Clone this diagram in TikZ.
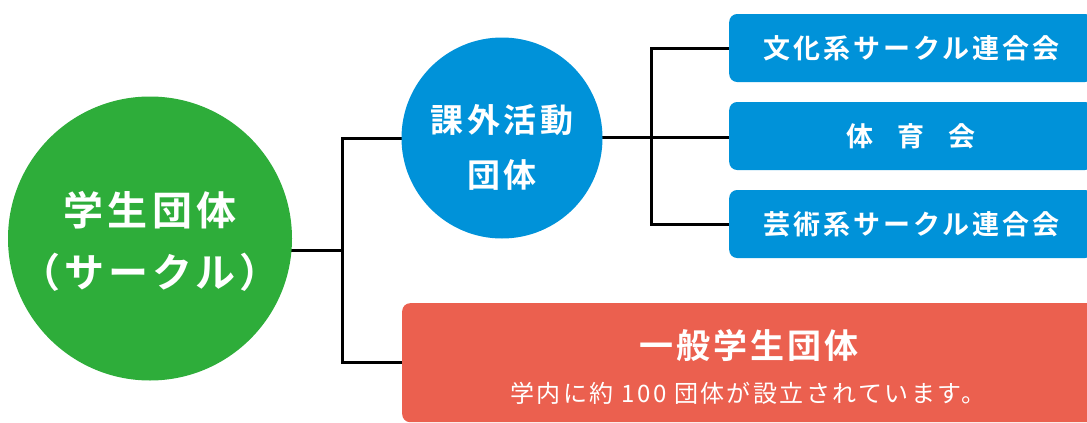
\documentclass[tikz,border=0pt]{standalone}
\usepackage{fontspec}
\usetikzlibrary{backgrounds}
\newfontfamily\jp{Noto Sans CJK JP}
\newfontfamily\jpb{Noto Sans CJK JP Bold}
\definecolor{cgreen}{RGB}{46,173,58}
\definecolor{cblue}{RGB}{0,146,217}
\definecolor{cred}{RGB}{235,96,79}
\tikzset{
  link/.style={draw=black, line width=3pt},
  bluebox/.style={rectangle, rounded corners=8pt, fill=cblue, text=white, minimum width=364pt, minimum height=68pt, anchor=west, inner sep=0pt},
  boxtext/.style={font={\jpb\fontsize{27}{30}\selectfont\addfontfeatures{LetterSpace=11}}}
}
\begin{document}
\begin{tikzpicture}[x=1pt,y=-1pt]
\useasboundingbox (0,0) rectangle (1087,423);
\clip (0,0) rectangle (1087,423);
% main circles
\node[circle, fill=cgreen, minimum size=284pt, inner sep=0pt] (green) at (150,238.5) {};
\node[text=white, font={\jpb\fontsize{40}{44}\selectfont\addfontfeatures{LetterSpace=11}}] (greent1) at (150,210) {学生団体};
\node[text=white, font={\jpb\fontsize{40}{44}\selectfont\addfontfeatures{LetterSpace=10}}] (greent2) at (150,272) {（サークル）};
\node[circle, fill=cblue, minimum size=201pt, inner sep=0pt] (blue) at (502,138) {};
\node[text=white, font={\jpb\fontsize{33}{36}\selectfont\addfontfeatures{LetterSpace=11}}] (bluet1) at (502,120) {課外活動};
\node[text=white, font={\jpb\fontsize{33}{36}\selectfont\addfontfeatures{LetterSpace=11}}] (bluet2) at (502,175) {団体};
% blue boxes
\node[bluebox, boxtext] (box1) at (729,48) {文化系サークル連合会};
\node[bluebox, boxtext] (box2) at (729,136) {体\hspace{24pt}育\hspace{24pt}会};
\node[bluebox, boxtext] (box3) at (729,224) {芸術系サークル連合会};
% red box
\node[rectangle, rounded corners=8pt, fill=cred, minimum width=694pt, minimum height=119pt, anchor=north west, inner sep=0pt] (red) at (402,303) {};
\node[text=white, font={\jpb\fontsize{34}{36}\selectfont\addfontfeatures{LetterSpace=9}}] (redt1) at (749,345) {一般学生団体};
\node[text=white, font={\jp\fontsize{24}{26}\selectfont\addfontfeatures{LetterSpace=10}}] (redt2) at (748,393) {学内に約 100 団体が設立されています。};
% connectors
\coordinate (ja) at (342,250);
\coordinate (jb) at (342,138);
\coordinate (jc) at (342,362);
\coordinate (k) at (651,137);
\begin{scope}[on background layer]
\draw[link] (green.center |- ja) -- (ja);
\draw[link] (blue.center) -- (jb) -- (jc) -- (red.center |- jc);
\draw[link] (blue.center |- k) -- (box2.center |- k);
\draw[link] (box1.center) -| (k) |- (box3.center);
\end{scope}
\end{tikzpicture}
\end{document}
